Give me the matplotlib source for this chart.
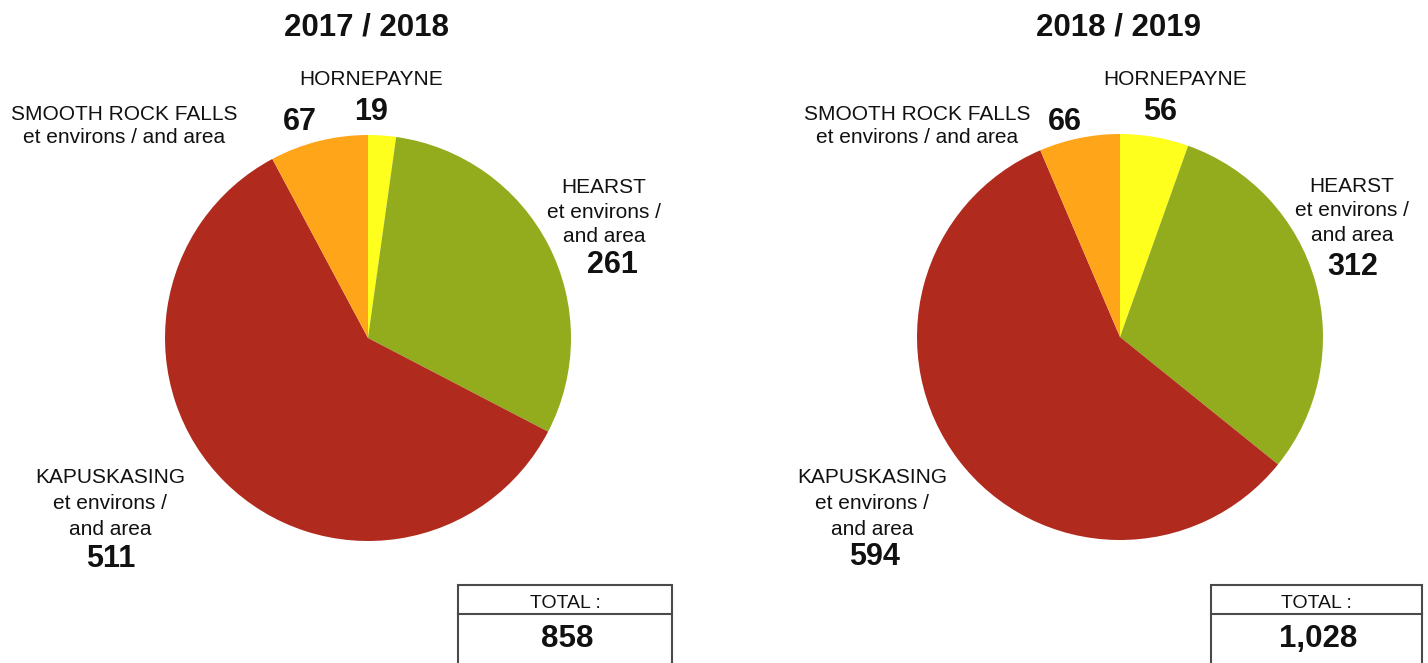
import matplotlib
matplotlib.use("Agg")
import matplotlib.pyplot as plt
from matplotlib.patches import Rectangle

plt.rcParams['font.family'] = ['Liberation Sans', 'DejaVu Sans']

# %% data
regions = ['HORNEPAYNE', 'HEARST', 'KAPUSKASING', 'SMOOTH ROCK FALLS']
region_lines = [
    ['HORNEPAYNE'],
    ['HEARST', 'et environs /', 'and area'],
    ['KAPUSKASING', 'et environs /', 'and area'],
    ['SMOOTH ROCK FALLS', 'et environs / and area'],
]
years = ['2017 / 2018', '2018 / 2019']
counts_1718 = [19, 261, 511, 67]
counts_1819 = [56, 312, 594, 66]
colors = ['#FFFF1E', '#93AC1E', '#B02A1E', '#FFA51A']

# %% layout (pixel coords, y measured from top)
W, H = 1428, 663
def Y(py):
    return H - py

pie_layout = [
    dict(center=(368, 338), radius=203, title_x=366,
         label_pos=[(371, 85), (604, 193), (110, 483), (124, 120)],
         label_step=[25, 24.5, 26, 23],
         num_pos=[(371, 120), (612, 273), (111, 567), (300, 130)],
         box=(458, 672)),
    dict(center=(1120, 337), radius=203, title_x=1118,
         label_pos=[(1175, 85), (1352, 192), (872, 483), (917, 120)],
         label_step=[25, 24.5, 26, 23],
         num_pos=[(1160, 120), (1353, 275), (875, 565), (1065, 130)],
         box=(1211, 1422)),
]

fig = plt.figure(figsize=(W / 100, H / 100), dpi=100)
ax = fig.add_axes([0, 0, 1, 1])

for year, counts, lay in zip(years, [counts_1718, counts_1819], pie_layout):
    cx, cy = lay['center']
    ax.pie(counts, colors=colors, startangle=90, counterclock=False,
           center=(cx, Y(cy)), radius=lay['radius'],
           wedgeprops=dict(linewidth=0))

    ax.text(lay['title_x'], Y(35), year, ha='center', va='baseline',
            fontsize=22.5, fontweight='bold', color='#111111')

    for i, lines in enumerate(region_lines):
        lx, ly = lay['label_pos'][i]
        for j, line in enumerate(lines):
            ax.text(lx, Y(ly + j * lay['label_step'][i]), line, ha='center',
                    va='baseline', fontsize=15, color='#111111')
        nx, ny = lay['num_pos'][i]
        ax.text(nx, Y(ny), f"{counts[i]:,}", ha='center', va='baseline',
                fontsize=22, fontweight='bold', color='#111111')

    # total box
    x0, x1 = lay['box']
    ax.add_patch(Rectangle((x0, Y(670)), x1 - x0, 670 - 585, fill=False,
                           edgecolor='#4a4a4a', linewidth=1.5))
    ax.plot([x0, x1], [Y(614), Y(614)], color='#4a4a4a', linewidth=1.5)
    xm = (x0 + x1) / 2
    ax.text(xm, Y(608), 'TOTAL :', ha='center', va='baseline',
            fontsize=14, color='#111111')
    ax.text(xm + 2, Y(647), f"{sum(counts):,}", ha='center', va='baseline',
            fontsize=22.5, fontweight='bold', color='#111111')

ax.set_xlim(0, W)
ax.set_ylim(0, H)
ax.set_aspect('equal')
ax.axis('off')

fig.savefig('out.png', dpi=100)
